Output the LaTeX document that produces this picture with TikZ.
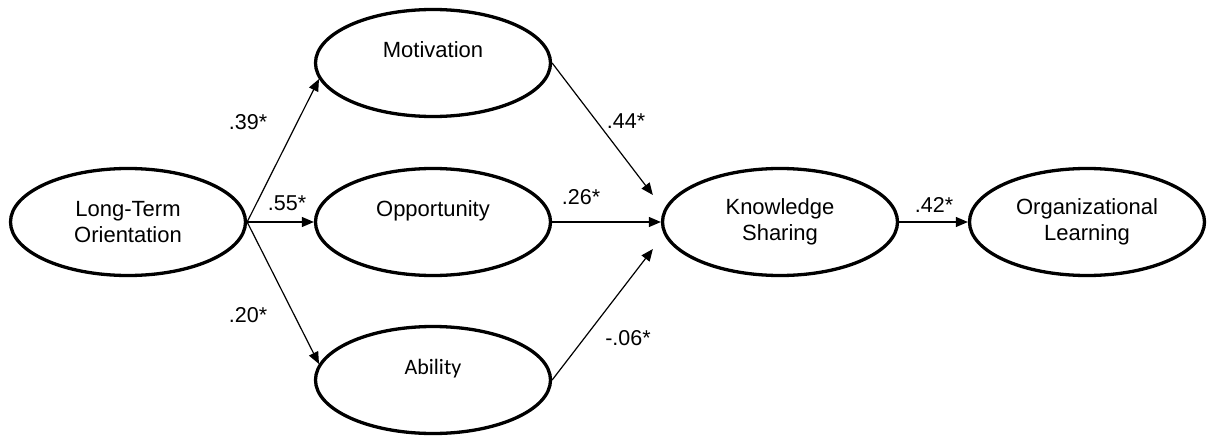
\documentclass[tikz,border=0pt]{standalone}
\usepackage{fontspec}
\setmainfont{Liberation Sans}
\newfontfamily\abilityfont{Carlito}
\usetikzlibrary{shapes.geometric,arrows.meta,calc}

\tikzset{
  latent/.style={ellipse, draw, line width=3.3pt, minimum width=235pt,
    minimum height=107pt, inner sep=0pt, align=center,
    font=\fontsize{22}{26}\selectfont},
  link/.style={line width=1.2pt, -{Triangle[length=12pt,width=10pt]}},
  coef/.style={inner sep=0pt, font=\fontsize{21.5}{25}\selectfont}
}

\begin{document}
\begin{tikzpicture}[x=1pt,y=-1pt]
\useasboundingbox (0,0) rectangle (1207,436);
% latent constructs
\node [latent] (lto) at (128,222) {Long-Term\\Orientation};
\node [latent] (mot) at (433,63) {Motivation\\~};
\node [latent] (opp) at (433,222) {Opportunity\\~};
\node [latent] (abi) at (433,380) {{\abilityfont Ability}\\~};
\node [latent] (ks) at (780,222) {Knowledge\\Sharing};
\node [latent] (ol) at (1087,222) {Organizational\\Learning};
% free ends next to knowledge sharing
\coordinate (kstop) at ($(ks.west)+(-8,-27)$);
\coordinate (ksbot) at ($(ks.west)+(-8,27)$);
% paths
\draw [link] (lto.east) -- (mot.188);
\draw [link] (lto.east) -- (opp.west);
\draw [link] (lto.east) -- (abi.172);
\draw [link] (mot.east) -- (kstop);
\draw [link] (opp.east) -- (ks.west);
\draw [link] (abi.east) -- (ksbot);
\draw [link] (ks.east) -- (ol.west);
% coefficients
\node [coef] (c39) at (248,122) {.39*};
\node [coef] (c55) at (287,203) {.55*};
\node [coef] (c20) at (248,315) {.20*};
\node [coef] (c44) at (626,121) {.44*};
\node [coef] (c26) at (581,197) {.26*};
\node [coef] (c06) at (628,338) {-.06*};
\node [coef] (c42) at (934,205) {.42*};
\end{tikzpicture}
\end{document}
